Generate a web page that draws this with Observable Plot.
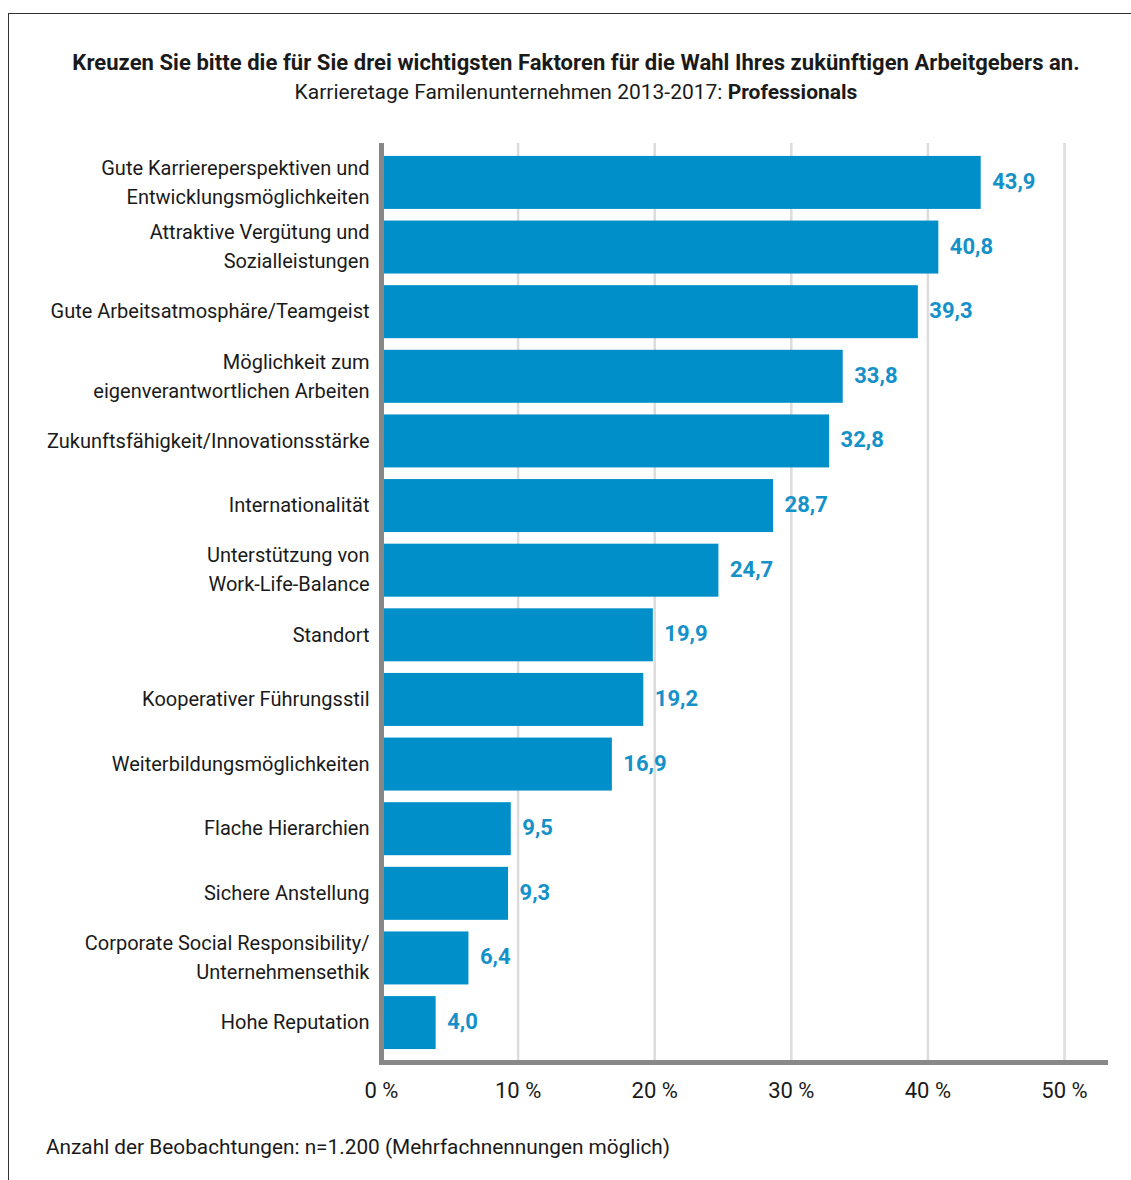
<!DOCTYPE html>
<html><head><meta charset="utf-8">
<script src="https://cdn.jsdelivr.net/npm/d3@7"></script>
<script src="https://cdn.jsdelivr.net/npm/@observablehq/plot@0.6"></script>
<style>
body{margin:0;background:#fff;font-family:Roboto,sans-serif;color:#1a1a1a;}
#frame{position:absolute;left:8px;top:13px;width:1200px;height:1250px;border-left:1.5px solid #333;border-top:1.5px solid #333;}
#title{position:absolute;left:0;width:1152px;top:50px;text-align:center;font-size:22px;font-weight:bold;letter-spacing:0.05px;}
#subtitle{position:absolute;left:0;width:1152px;top:80px;text-align:center;font-size:21px;}
#chart{position:absolute;left:0;top:130px;}
#caption{position:absolute;left:46px;top:1135px;font-size:20.8px;}
</style></head>
<body>
<div id="frame"></div>
<div id="title">Kreuzen Sie bitte die für Sie drei wichtigsten Faktoren für die Wahl Ihres zukünftigen Arbeitgebers an.</div>
<div id="subtitle">Karrieretage Familenunternehmen 2013-2017: <b>Professionals</b></div>
<div id="chart"></div>
<div id="caption">Anzahl der Beobachtungen: n=1.200 (Mehrfachnennungen möglich)</div>
<script>
const categories = [
  "Gute Karriereperspektiven und\nEntwicklungsmöglichkeiten",
  "Attraktive Vergütung und\nSozialleistungen",
  "Gute Arbeitsatmosphäre/Teamgeist",
  "Möglichkeit zum\neigenverantwortlichen Arbeiten",
  "Zukunftsfähigkeit/Innovationsstärke",
  "Internationalität",
  "Unterstützung von\nWork-Life-Balance",
  "Standort",
  "Kooperativer Führungsstil",
  "Weiterbildungsmöglichkeiten",
  "Flache Hierarchien",
  "Sichere Anstellung",
  "Corporate Social Responsibility/\nUnternehmensethik",
  "Hohe Reputation"
];
const values = [43.9, 40.8, 39.3, 33.8, 32.8, 28.7, 24.7, 19.9, 19.2, 16.9, 9.5, 9.3, 6.4, 4.0];
const xTicks = [0, 10, 20, 30, 40, 50];

const data = categories.map((c, i) => ({cat: c, value: values[i]}));
const fmt = v => v.toFixed(1).replace(".", ",");

const chart = Plot.plot({
  width: 1131,
  height: 977,
  marginTop: 13,
  marginBottom: 45,
  marginLeft: 381,
  marginRight: 26,
  style: {fontFamily: "Roboto, sans-serif", fontSize: "20px", color: "#1a1a1a", background: "transparent"},
  x: {domain: [0, 53], ticks: xTicks, tickFormat: d => d + " %"},
  y: {domain: categories, paddingInner: 0.18, paddingOuter: 0.2, round: false},
  marks: [
    Plot.ruleX(xTicks.slice(1), {stroke: "#dcdcdc", strokeWidth: 2.5}),
    Plot.barX(data, {y: "cat", x: "value", fill: "#008fc8"}),
    Plot.text(data, {y: "cat", x: "value", text: d => fmt(d.value), textAnchor: "start", dx: 11, dy: -1, fill: "#1591c9", fontWeight: "bold", fontSize: 22}),
    Plot.axisX({ticks: xTicks, tickSize: 0, tickPadding: 20, tickFormat: d => d + " %", fontSize: 22, label: null}),
    Plot.axisY({tickSize: 0, tickPadding: 12, dy: -3, fontSize: 20, lineHeight: 1.45, label: null}),
    Plot.ruleX([0], {stroke: "#888", strokeWidth: 5}),
    Plot.frame({anchor: "bottom", stroke: "#888", strokeWidth: 5})
  ]
});
document.getElementById("chart").appendChild(chart);
</script>
</body></html>
